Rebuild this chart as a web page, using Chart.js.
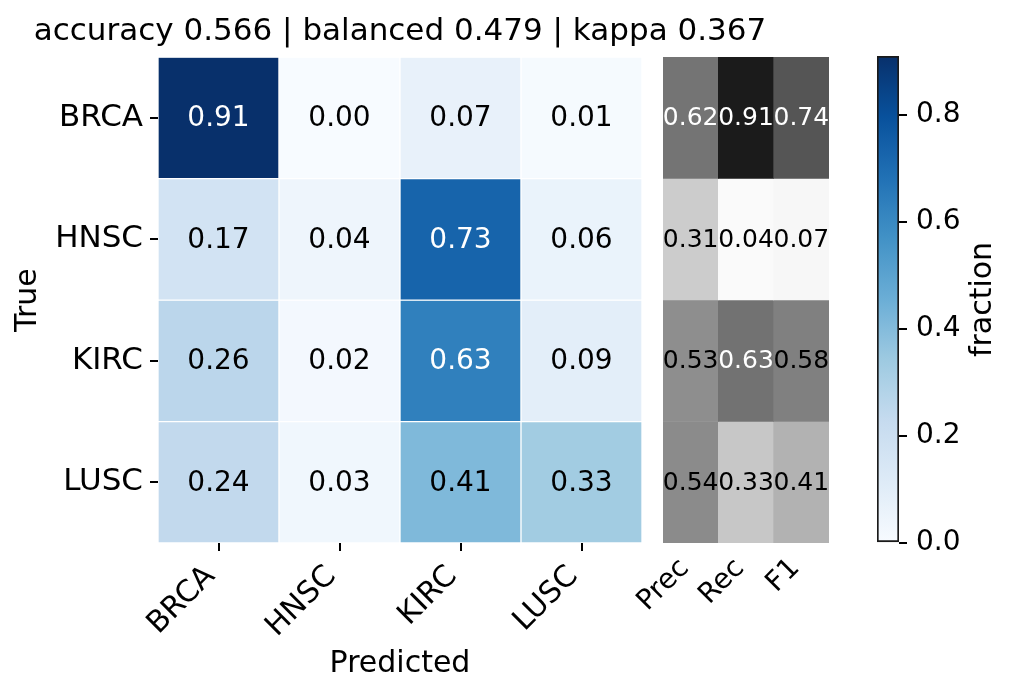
<!DOCTYPE html>
<html>
<head>
<meta charset="utf-8">
<script src="https://cdn.jsdelivr.net/npm/chart.js@4.4.1/dist/chart.umd.min.js"></script>
<style>
  html, body { margin: 0; padding: 0; background: #fff; }
  #wrap { position: relative; width: 1014px; height: 695px; overflow: hidden; }
  canvas { position: absolute; top: 0; }
</style>
</head>
<body>
<div id="wrap">
  <canvas id="cmChart" width="800" height="695" style="left:0"></canvas>
  <canvas id="sideChart" width="230" height="695" style="left:630px"></canvas>
  <canvas id="cbarChart" width="154" height="695" style="left:860px"></canvas>
</div>
<script>
// data
const classes = ['BRCA', 'HNSC', 'KIRC', 'LUSC'];
const cmBRCA = [0.91, 0.00, 0.07, 0.01];
const cmHNSC = [0.17, 0.04, 0.73, 0.06];
const cmKIRC = [0.26, 0.02, 0.63, 0.09];
const cmLUSC = [0.24, 0.03, 0.41, 0.33];
const cm = [cmBRCA, cmHNSC, cmKIRC, cmLUSC];

const metricNames = ['Prec', 'Rec', 'F1'];
const precision = [0.62, 0.31, 0.53, 0.54];
const recall = [0.91, 0.04, 0.63, 0.33];
const f1 = [0.74, 0.07, 0.58, 0.41];

const cbarMax = 0.91;
const cbarTicks = [0, 0.2, 0.4, 0.6, 0.8];
const titleText = 'accuracy 0.566 | balanced 0.479 | kappa 0.367';

// colormaps (matplotlib Blues / Greys)
const BLUES = ['#f7fbff','#deebf7','#c6dbef','#9ecae1','#6baed6','#4292c6','#2171b5','#08519c','#08306b'];
const GREYS = ['#ffffff','#f0f0f0','#d9d9d9','#bdbdbd','#969696','#737373','#525252','#252525','#000000'];

function hexToRgb(h) {
  return [parseInt(h.slice(1,3),16), parseInt(h.slice(3,5),16), parseInt(h.slice(5,7),16)];
}
function cmap(stops, t) {
  t = Math.min(1, Math.max(0, t));
  const p = t * (stops.length - 1);
  const i = Math.min(Math.floor(p), stops.length - 2);
  const f = p - i;
  const a = hexToRgb(stops[i]), b = hexToRgb(stops[i+1]);
  const c = a.map((v, k) => Math.round(v + (b[k] - v) * f));
  return 'rgb(' + c.join(',') + ')';
}
const blues = v => cmap(BLUES, v / cbarMax);
const greys = v => cmap(GREYS, v);

Chart.defaults.font.family = "'DejaVu Sans', sans-serif";
Chart.defaults.color = '#000';
Chart.defaults.animation = false;

// writes the value in the middle of each cell
function cellText(rows, size) {
  return {
    id: 'cellText',
    afterDatasetsDraw(chart) {
      const ctx = chart.ctx;
      ctx.save();
      ctx.font = size + "px 'DejaVu Sans'";
      ctx.textAlign = 'center';
      ctx.textBaseline = 'middle';
      chart.data.datasets.forEach((ds, r) => {
        chart.getDatasetMeta(r).data.forEach((el, c) => {
          const v = rows[r][c];
          ctx.fillStyle = v > 0.6 ? '#fff' : '#000';
          ctx.fillText(v.toFixed(2), el.x, (el.y + el.base) / 2 + 1);
        });
      });
      ctx.restore();
    }
  };
}

// ---- confusion matrix ----
new Chart(document.getElementById('cmChart'), {
  type: 'bar',
  data: {
    labels: classes,
    datasets: cm.map((row, r) => ({
      label: classes[r],
      data: row.map(() => [r, r + 1]),
      backgroundColor: row.map(blues),
      borderColor: '#fff',
      borderWidth: 1,
      borderSkipped: false,
      grouped: false,
      barPercentage: 1,
      categoryPercentage: 1
    }))
  },
  options: {
    responsive: false,
    devicePixelRatio: 1,
    layout: { padding: 0 },
    plugins: {
      legend: { display: false },
      tooltip: { enabled: false },
      title: {
        display: true, text: titleText,
        font: { size: 31, weight: 'normal' },
        padding: { top: 13, bottom: 7 }
      }
    },
    scales: {
      x: {
        afterFit: s => { s.height = 152; },
        border: { display: false },
        grid: { offset: false, drawOnChartArea: false, tickLength: 8, color: '#000', lineWidth: 2 },
        ticks: { font: { size: 30 }, maxRotation: 45, minRotation: 45, padding: 8, labelOffset: -8 },
        title: { display: true, text: 'Predicted', font: { size: 30 }, padding: { top: 0, bottom: 13 } }
      },
      y: {
        min: 0, max: 4, reverse: true,
        afterFit: s => { s.width = 158; },
        afterBuildTicks: s => { s.ticks = classes.map((_, i) => ({ value: i + 0.5 })); },
        border: { display: false },
        grid: { drawOnChartArea: false, tickLength: 8, color: '#000', lineWidth: 2 },
        ticks: { font: { size: 31 }, padding: 7, callback: (v, i) => classes[i] },
        title: { display: true, text: 'True', font: { size: 30 }, padding: { top: 10, bottom: 0 } }
      },
      // empty right margin so the title centres over the matrix
      spacer: {
        type: 'linear', position: 'right',
        afterFit: s => { s.width = 158; },
        border: { display: false },
        grid: { display: false },
        ticks: { display: false }
      }
    }
  },
  plugins: [cellText(cm, 28)]
});

// ---- per-class metrics ----
const metricRows = classes.map((_, r) => [precision[r], recall[r], f1[r]]);
new Chart(document.getElementById('sideChart'), {
  type: 'bar',
  data: {
    labels: metricNames,
    datasets: metricRows.map((row, r) => ({
      label: classes[r],
      data: row.map(() => [r, r + 1]),
      backgroundColor: row.map(greys),
      borderWidth: 0,
      grouped: false,
      barPercentage: 1,
      categoryPercentage: 1
    }))
  },
  options: {
    responsive: false,
    devicePixelRatio: 1,
    layout: { padding: { left: 33, right: 31, top: 57, bottom: 0 } },
    plugins: { legend: { display: false }, tooltip: { enabled: false } },
    scales: {
      x: {
        afterFit: s => { s.height = 152; },
        border: { display: false },
        grid: { display: false },
        ticks: { font: { size: 28 }, maxRotation: 45, minRotation: 45, padding: 1, labelOffset: -6 }
      },
      y: { min: 0, max: 4, reverse: true, display: false }
    }
  },
  plugins: [cellText(metricRows, 25)]
});

// ---- colorbar ----
new Chart(document.getElementById('cbarChart'), {
  type: 'bar',
  data: {
    labels: [''],
    datasets: [{
      data: [[0, cbarMax]],
      backgroundColor: ctx => {
        const chart = ctx.chart;
        if (!chart.chartArea) return blues(cbarMax / 2);
        const y = chart.scales.y;
        const g = chart.ctx.createLinearGradient(0, y.getPixelForValue(0), 0, y.getPixelForValue(cbarMax));
        for (let i = 0; i <= 16; i++) g.addColorStop(i / 16, cmap(BLUES, i / 16));
        return g;
      },
      borderColor: '#1a1a1a',
      borderWidth: 2,
      borderSkipped: false,
      barPercentage: 1,
      categoryPercentage: 1
    }]
  },
  options: {
    responsive: false,
    devicePixelRatio: 1,
    layout: { padding: { left: 17, right: 0, top: 56, bottom: 152 } },
    plugins: { legend: { display: false }, tooltip: { enabled: false } },
    scales: {
      x: { display: false },
      y: {
        position: 'right',
        min: 0, max: cbarMax,
        afterFit: s => { s.width = 115; },
        afterBuildTicks: s => { s.ticks = cbarTicks.map(v => ({ value: v })); },
        border: { display: false },
        grid: { drawOnChartArea: false, tickLength: 8, color: '#000', lineWidth: 2 },
        ticks: { font: { size: 28 }, padding: 9, callback: v => v.toFixed(1) }
      }
    }
  },
  plugins: [{
    id: 'cbarLabel',
    afterDraw(chart) {
      const ctx = chart.ctx, y = chart.scales.y;
      ctx.save();
      ctx.translate(y.right - 31, (y.top + y.bottom) / 2);
      ctx.rotate(-Math.PI / 2);
      ctx.font = "30px 'DejaVu Sans'";
      ctx.fillStyle = '#000';
      ctx.textAlign = 'center';
      ctx.textBaseline = 'middle';
      ctx.fillText('fraction', 0, 0);
      ctx.restore();
    }
  }]
});
</script>
</body>
</html>
